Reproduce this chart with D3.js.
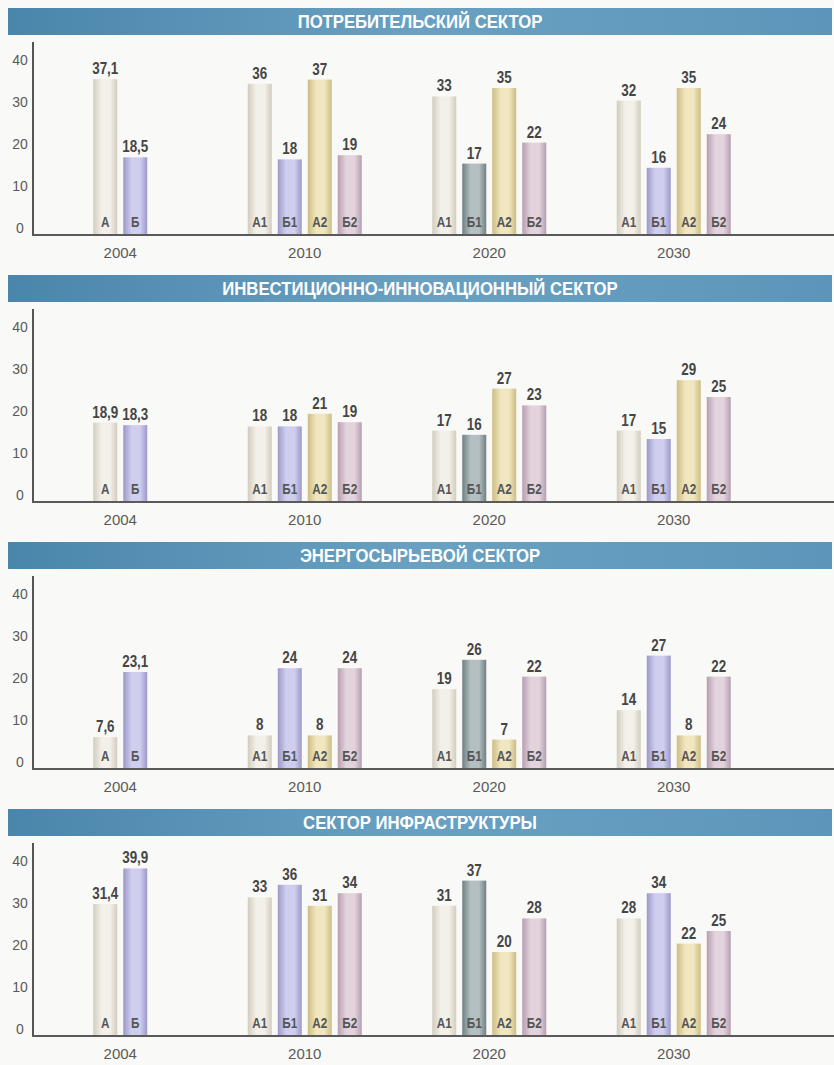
<!DOCTYPE html>
<html lang="ru">
<head>
<meta charset="utf-8">
<script src="https://cdn.jsdelivr.net/npm/d3@7"></script>
<style>
  html, body { margin: 0; padding: 0; background: #f9f9f7; }
  svg { display: block; }
  .num { font-family: "Liberation Sans", Arial, sans-serif; font-weight: bold; fill: #454545; }
  .ser { font-family: "Liberation Sans", Arial, sans-serif; font-weight: bold; fill: #555; }
  .head { font-family: "Liberation Sans", Arial, sans-serif; font-weight: bold; fill: #fff; }
  .tick text { font-family: "Liberation Sans", Arial, sans-serif; fill: #595959; }
</style>
</head>
<body>
<svg id="chart" width="834" height="1065"></svg>
<script>
// Sector panels, top to bottom
const sectors = [
  "ПОТРЕБИТЕЛЬСКИЙ СЕКТОР",
  "ИНВЕСТИЦИОННО-ИННОВАЦИОННЫЙ СЕКТОР",
  "ЭНЕРГОСЫРЬЕВОЙ СЕКТОР",
  "СЕКТОР ИНФРАСТРУКТУРЫ"
];
const years = ["2004", "2010", "2020", "2030"];
// 2004 is the base year (two variants); later years carry four scenarios
const baseSeries = ["А", "Б"];
const scenarioSeries = ["А1", "Б1", "А2", "Б2"];
const yTicks = [0, 10, 20, 30, 40];

// Values per year, in the order of the series above
const consumer       = [[37.1, 18.5], [36, 18, 37, 19], [33, 17, 35, 22], [32, 16, 35, 24]];
const investment     = [[18.9, 18.3], [18, 18, 21, 19], [17, 16, 27, 23], [17, 15, 29, 25]];
const energy         = [[7.6, 23.1],  [8, 24, 8, 24],   [19, 26, 7, 22],  [14, 27, 8, 22]];
const infrastructure = [[31.4, 39.9], [33, 36, 31, 34], [31, 37, 20, 28], [28, 34, 22, 25]];
const sectorValues = [consumer, investment, energy, infrastructure];

// Bar fills: [edge, highlight] per series; the 2020 Б1 bar is printed in slate
const fills = {
  "А":  ["#d3ccbe", "#f3f0e9"],
  "А1": ["#d3ccbe", "#f3f0e9"],
  "Б":  ["#9c98c9", "#d0ceef"],
  "Б1": ["#9c98c9", "#d0ceef"],
  "А2": ["#cdbd82", "#f0e6bf"],
  "Б2": ["#b79eb0", "#e3d3dd"],
  "2020:Б1": ["#6f8083", "#b3bfc0"]
};

const svg = d3.select("#chart");
const defs = svg.append("defs");

// Cylinder-like horizontal shading for each bar colour
Object.entries(fills).forEach(([key, [edge, light]], i) => {
  const g = defs.append("linearGradient").attr("id", "bar" + i)
    .attr("x1", "0").attr("x2", "1").attr("y1", "0").attr("y2", "0");
  g.append("stop").attr("offset", "0").attr("stop-color", edge);
  g.append("stop").attr("offset", "0.35").attr("stop-color", light);
  g.append("stop").attr("offset", "0.7").attr("stop-color", light);
  g.append("stop").attr("offset", "1").attr("stop-color", edge);
  fills[key].id = "bar" + i;
});

const head = defs.append("linearGradient").attr("id", "head")
  .attr("x1", "0").attr("x2", "1").attr("y1", "0").attr("y2", "0");
head.append("stop").attr("offset", "0").attr("stop-color", "#4a85ab");
head.append("stop").attr("offset", "0.5").attr("stop-color", "#6aa1c2");
head.append("stop").attr("offset", "1").attr("stop-color", "#5b96ba");

const axisX = 33;
const x = d3.scaleBand().domain(years).range([28, 766]);
const fmt = v => d3.format(",")(v).replace(".", ",");
// Condensed lettering: regular face squeezed horizontally
const narrow = (sel, px, py) => sel.attr("transform", d => `translate(${px(d)},${py(d)}) scale(0.84,1)`);

sectors.forEach((title, pi) => {
  const top = 8 + pi * 267;
  const base = top + 227;
  const g = svg.append("g");

  // Header band
  g.append("rect").attr("x", 8).attr("y", top).attr("width", 824).attr("height", 27)
    .attr("fill", "url(#head)");
  g.append("text").attr("class", "head")
    .attr("transform", `translate(420,${top + 14}) scale(0.88,1)`)
    .attr("text-anchor", "middle").attr("dominant-baseline", "central")
    .style("font-size", "19px").text(title);

  const y = d3.scaleLinear().domain([0, 40]).range([base, base - 168]);

  // Value axis labels
  const ya = g.append("g").attr("transform", `translate(${axisX},0)`)
    .call(d3.axisLeft(y).tickValues(yTicks).tickSize(0).tickFormat(d3.format("d")));
  ya.select(".domain").remove();
  ya.selectAll("text").attr("x", -13).attr("dy", "-0.2em")
    .attr("text-anchor", "middle").style("font-size", "14px");

  // Year labels
  const xa = g.append("g").attr("transform", `translate(0,${base})`)
    .call(d3.axisBottom(x).tickSize(0).tickPadding(12));
  xa.select(".domain").remove();
  xa.selectAll("text").style("font-size", "15px");

  sectorValues[pi].forEach((vals, yi) => {
    const series = yi === 0 ? baseSeries : scenarioSeries;
    const half = (series.length * 30 - 6) / 2;
    const inner = d3.scaleBand().domain(series).range([-half, half]).paddingInner(0.2);
    const cx = x(years[yi]) + x.bandwidth() / 2;
    const rows = series.map((s, si) => ({ s, v: vals[si] }));
    const mid = d => inner(d.s) + inner.bandwidth() / 2;

    const bars = g.append("g").attr("transform", `translate(${cx},0)`);
    bars.selectAll("rect").data(rows).join("rect")
      .attr("x", d => inner(d.s))
      .attr("y", d => y(d.v))
      .attr("width", inner.bandwidth())
      .attr("height", d => base - y(d.v))
      .attr("fill", d => `url(#${(fills[years[yi] + ":" + d.s] || fills[d.s]).id})`);

    bars.selectAll("text.num").data(rows).join("text").attr("class", "num")
      .call(narrow, mid, d => y(d.v) - 5)
      .attr("text-anchor", "middle").style("font-size", "16px")
      .text(d => fmt(d.v));

    bars.selectAll("text.ser").data(rows).join("text").attr("class", "ser")
      .call(narrow, mid, () => base - 8)
      .attr("text-anchor", "middle").style("font-size", "14px")
      .text(d => d.s);
  });

  // Axis lines
  g.append("line").attr("x1", axisX).attr("x2", axisX)
    .attr("y1", top + 34).attr("y2", base + 1)
    .attr("stroke", "#555").attr("stroke-width", 2);
  g.append("line").attr("x1", axisX - 1).attr("x2", 834)
    .attr("y1", base).attr("y2", base)
    .attr("stroke", "#5a5a5a").attr("stroke-width", 2);
});
</script>
</body>
</html>
